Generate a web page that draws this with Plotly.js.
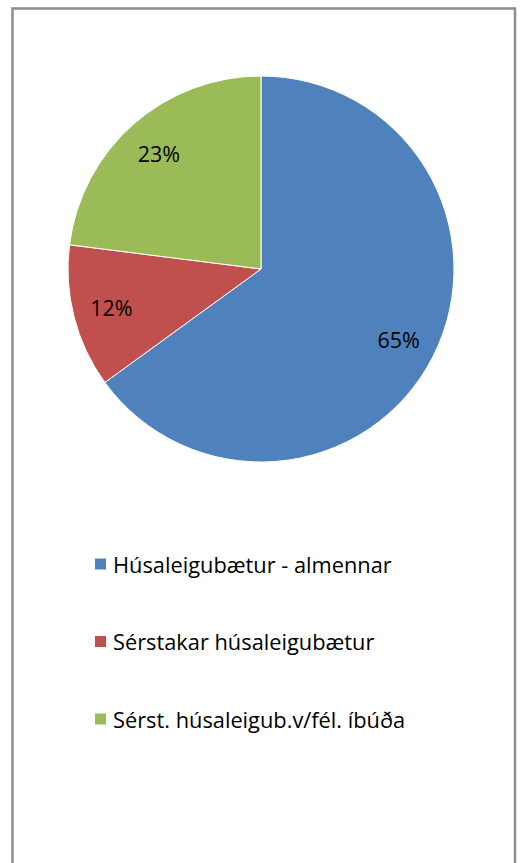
<!DOCTYPE html>
<html>
<head>
<meta charset="utf-8">
<script src="https://cdn.plot.ly/plotly-3.0.1.min.js"></script>
<style>html,body{margin:0;padding:0;background:#fff;}#chart{width:520px;height:863px;}</style>
</head>
<body>
<div id="chart"></div>
<script>
const labels = ["Húsaleigubætur - almennar", "Sérstakar húsaleigubætur", "Sérst. húsaleigub.v/fél. íbúða"];
const values = [65, 12, 23];
const colors = ["#4F81BD", "#C0504D", "#9BBB59"];

const W = 520, H = 863;
const dom = {x: [68 / W, 454 / W], y: [1 - 462 / H, 1 - 76 / H]};
const FONT = '"Open Sans", Lato, sans-serif';

const pie = {
  type: 'pie', labels: labels, values: values, sort: false,
  direction: 'clockwise', rotation: 0, domain: dom,
  marker: {colors: colors, line: {color: '#ffffff', width: 1}},
  textinfo: 'none', hoverinfo: 'label+percent', showlegend: false
};
const textRing = {
  type: 'pie', labels: labels, values: values, sort: false,
  direction: 'clockwise', rotation: 0, domain: dom, hole: 0.6,
  marker: {colors: ['rgba(0,0,0,0)', 'rgba(0,0,0,0)', 'rgba(0,0,0,0)'], line: {width: 0}},
  texttemplate: '%{percent:.0%}', textposition: 'inside', insidetextorientation: 'horizontal',
  textfont: {family: FONT, size: 21.5, color: '#000000'},
  hoverinfo: 'skip', showlegend: false
};

const shapes = [{
  type: 'rect', xref: 'paper', yref: 'paper',
  x0: 12.5 / W, x1: 515 / W, y0: -0.02, y1: 1 - 8.5 / H,
  line: {color: '#8c8c8c', width: 2.5}, fillcolor: 'rgba(0,0,0,0)'
}];
const annotations = [];
const legendTop = 564, legendStep = 77.5;
labels.forEach((lab, i) => {
  const yc = legendTop + i * legendStep;
  shapes.push({
    type: 'rect', xref: 'paper', yref: 'paper',
    x0: 95 / W, x1: 106 / W, y0: 1 - (yc + 5.5) / H, y1: 1 - (yc - 5.5) / H,
    line: {width: 0}, fillcolor: colors[i]
  });
  annotations.push({
    xref: 'paper', yref: 'paper', x: 111 / W, y: 1 - yc / H,
    xanchor: 'left', yanchor: 'middle', showarrow: false, text: lab,
    font: {family: FONT, size: 21.8, color: '#000000'}
  });
});

Plotly.newPlot('chart', [pie, textRing], {
  width: W, height: H, margin: {l: 0, r: 0, t: 0, b: 0},
  paper_bgcolor: '#ffffff', plot_bgcolor: '#ffffff',
  showlegend: false, shapes: shapes, annotations: annotations
}, {displayModeBar: false, staticPlot: true});
</script>
</body>
</html>
